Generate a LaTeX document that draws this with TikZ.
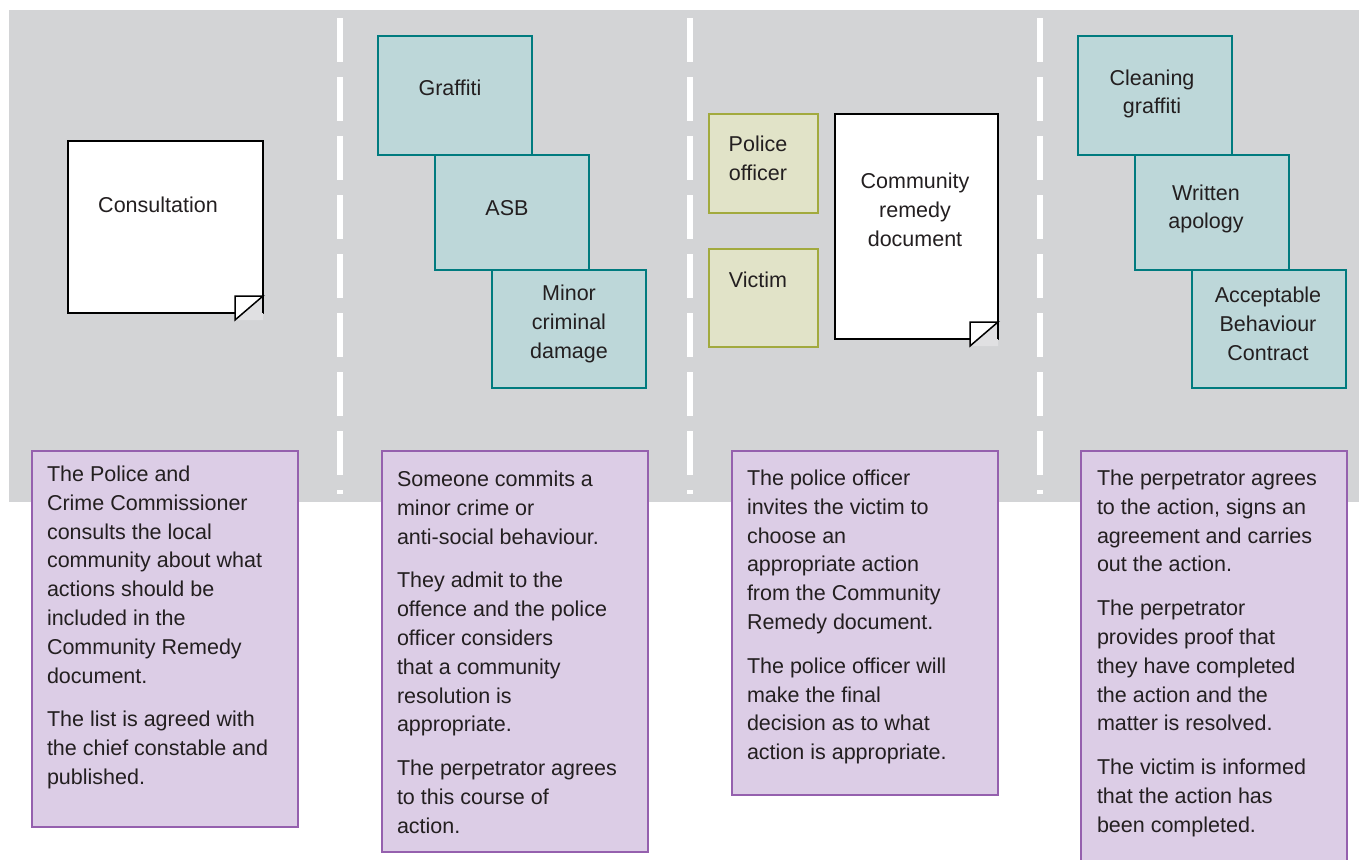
\documentclass[tikz,border=0pt]{standalone}
\usepackage{fontspec}
\setmainfont{Liberation Sans}
\usepackage{tikz}
\usetikzlibrary{positioning}

\definecolor{bggray}{RGB}{211,212,214}
\definecolor{tealfill}{RGB}{189,215,217}
\definecolor{tealline}{RGB}{0,123,127}
\definecolor{olivefill}{RGB}{225,227,200}
\definecolor{oliveline}{RGB}{162,170,62}
\definecolor{lilacfill}{RGB}{220,205,230}
\definecolor{lilacline}{RGB}{149,96,174}
\definecolor{foldgray}{RGB}{224,224,226}
\definecolor{inkgray}{RGB}{35,31,32}

\newcommand{\pagefold}[1]{%
  \fill[foldgray] ([shift={(-28,7)}]#1.south east) -- ([shift={(0,-17)}]#1.south east) -- ([shift={(0,7)}]#1.south east) -- cycle;
  \draw[line width=1.5pt, fill=white] ([shift={(-28,7)}]#1.south east) -- ([shift={(-28,-17)}]#1.south east) -- ([shift={(0,-17)}]#1.south east) -- cycle;
  \draw[line width=1.5pt] ([shift={(0,-17)}]#1.south east) -- (#1.south east);
}

\begin{document}
\begin{tikzpicture}[x=1pt, y=-1pt,
    every node/.style={font=\fontsize{21.5}{28.8}\selectfont, text=inkgray, inner sep=0pt, outer sep=0pt},
    docbox/.style={rectangle, draw=black, line width=1.5pt, fill=white, anchor=north west},
    tealbox/.style={rectangle, draw=tealline, line width=2pt, fill=tealfill, anchor=north west, minimum width=154pt},
    olivebox/.style={rectangle, draw=oliveline, line width=1.8pt, fill=olivefill, anchor=north west, minimum width=109pt},
    notebox/.style={rectangle, draw=lilacline, line width=1.5pt, fill=lilacfill, anchor=north west, minimum width=266pt},
    lbl/.style={align=center},
    notetext/.style={anchor=north west, align=left},
    divider/.style={white, line width=5.5pt, dash pattern=on 44pt off 15pt}]

  \useasboundingbox (0,0) rectangle (1359,859);
  \clip (0,0) rectangle (1359,859);
  \fill[bggray] (9,10) rectangle (1359,502);
  \foreach \x in {340,690,1040}
    \draw[divider] (\x,18) -- (\x,494);

  \node[docbox, minimum width=195pt, minimum height=172pt] (consult) at (68,141) {};
  \pagefold{consult}
  \node[lbl] at (158,205) {Consultation};

  \node[tealbox, minimum height=119pt] (graffiti) at (378,36) {};
  \node[tealbox, minimum height=115pt] (asb) at ([xshift=57pt]graffiti.south west) {};
  \node[tealbox, minimum height=118pt] (minor) at ([xshift=57pt]asb.south west) {};
  \node[lbl] at (450,88) {Graffiti};
  \node[lbl] at (507,208) {ASB};
  \node[lbl] at (569,324) {Minor\\criminal\\damage};

  \node[olivebox, minimum height=99pt] (officer) at (709,114) {};
  \node[olivebox, minimum height=98pt, below=36pt of officer.south west, anchor=north west] (victim) {};
  \node[docbox, minimum width=163pt, minimum height=225pt] (remedy) at (835,114) {};
  \pagefold{remedy}
  \node[lbl] at (758,158) {Police\\officer};
  \node[lbl] at (758,280) {Victim};
  \node[lbl] at (915,210) {Community\\remedy\\document};

  \node[tealbox, minimum height=119pt] (cleaning) at (1078,36) {};
  \node[tealbox, minimum height=115pt] (apology) at ([xshift=57pt]cleaning.south west) {};
  \node[tealbox, minimum height=118pt] (contract) at ([xshift=57pt]apology.south west) {};
  \node[lbl] at (1152,94) {Cleaning\\graffiti};
  \node[lbl] at (1206,209) {Written\\apology};
  \node[lbl] at (1268,324) {Acceptable\\Behaviour\\Contract};

  \node[notebox, minimum height=376pt] (noteA) at (32,451) {};
  \node[notebox, minimum height=401pt] (noteB) at (382,451) {};
  \node[notebox, minimum height=344pt] (noteC) at (732,451) {};
  \node[notebox, minimum height=420pt] (noteD) at (1081,451) {};

  \node[notetext] at ([shift={(15,15)}]noteA.north west) {The Police and\\Crime Commissioner\\consults the local\\community about what\\actions should be\\included in the\\Community Remedy\\document.\\[15pt]The list is agreed with\\the chief constable and\\published.};
  \node[notetext] at ([shift={(15,20)}]noteB.north west) {Someone commits a\\minor crime or\\anti-social behaviour.\\[15pt]They admit to the\\offence and the police\\officer considers\\that a community\\resolution is\\appropriate.\\[15pt]The perpetrator agrees\\to this course of\\action.};
  \node[notetext] at ([shift={(15,19)}]noteC.north west) {The police officer\\invites the victim to\\choose an\\appropriate action\\from the Community\\Remedy document.\\[15pt]The police officer will\\make the final\\decision as to what\\action is appropriate.};
  \node[notetext] at ([shift={(16,19)}]noteD.north west) {The perpetrator agrees\\to the action, signs an\\agreement and carries\\out the action.\\[15pt]The perpetrator\\provides proof that\\they have completed\\the action and the\\matter is resolved.\\[15pt]The victim is informed\\that the action has\\been completed.};
\end{tikzpicture}
\end{document}
